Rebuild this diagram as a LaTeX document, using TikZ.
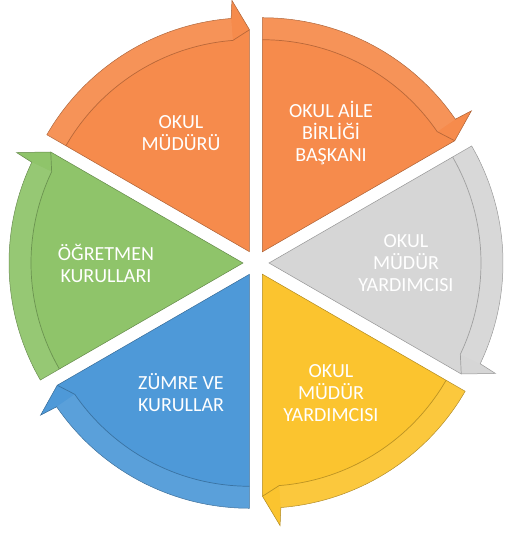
\documentclass[tikz,border=0pt]{standalone}
\usepackage{fontspec}
\setmainfont{Carlito}
\usepackage{tikz}
\definecolor{segorange}{RGB}{246,139,76}
\definecolor{seggray}{RGB}{214,214,214}
\definecolor{segyellow}{RGB}{251,196,47}
\definecolor{segblue}{RGB}{78,153,216}
\definecolor{seggreen}{RGB}{143,196,106}
\tikzset{
  seglabel/.style={text=white, align=center, font=\fontsize{20}{22}\selectfont},
  segedge/.style={line width=.5pt},
  segband/.style={line width=.7pt}
}

\begin{document}
\begin{tikzpicture}[x=1pt,y=1pt]
\useasboundingbox (-256,-270) rectangle (248,263);
\foreach \a/\col/\name/\txt in {150/segorange/mudur/{OKUL\\MÜDÜRÜ},
    90/segorange/aile/{OKUL AİLE\\BİRLİĞİ\\BAŞKANI},
    30/seggray/yrdA/{OKUL\\MÜDÜR\\YARDIMCISI},
    -30/segyellow/yrdB/{OKUL\\MÜDÜR\\YARDIMCISI},
    -90/segblue/zumre/{ZÜMRE VE\\KURULLAR},
    -150/seggreen/ogretmen/{ÖĞRETMEN\\KURULLARI}} {
  \pgfmathsetmacro{\b}{\a-60}
  \pgfmathsetmacro{\m}{\a-30}
  \begin{scope}[shift={(\m:13pt)}]
    \fill[\col, draw=\col!70!black, segedge] (0,0) -- (\a:234pt)
      arc[start angle=\a, end angle=\b+4.5, radius=234pt]
      -- (\b+4:252pt) -- (\b:222pt) -- cycle;
    \fill[white, opacity=.07] (\a:212pt)
      arc[start angle=\a, end angle=\b+4.5, radius=212pt]
      -- (\b+4.5:234pt)
      arc[start angle=\b+4.5, end angle=\a, radius=234pt] -- cycle;
    \draw[\col!75!black, segband] (\a:212pt)
      arc[start angle=\a, end angle=\b+4.5, radius=212pt] -- (\b:222pt);
  \end{scope}
  \node[seglabel] (\name) at (\m:150pt) {\txt};
}
\end{tikzpicture}
\end{document}
